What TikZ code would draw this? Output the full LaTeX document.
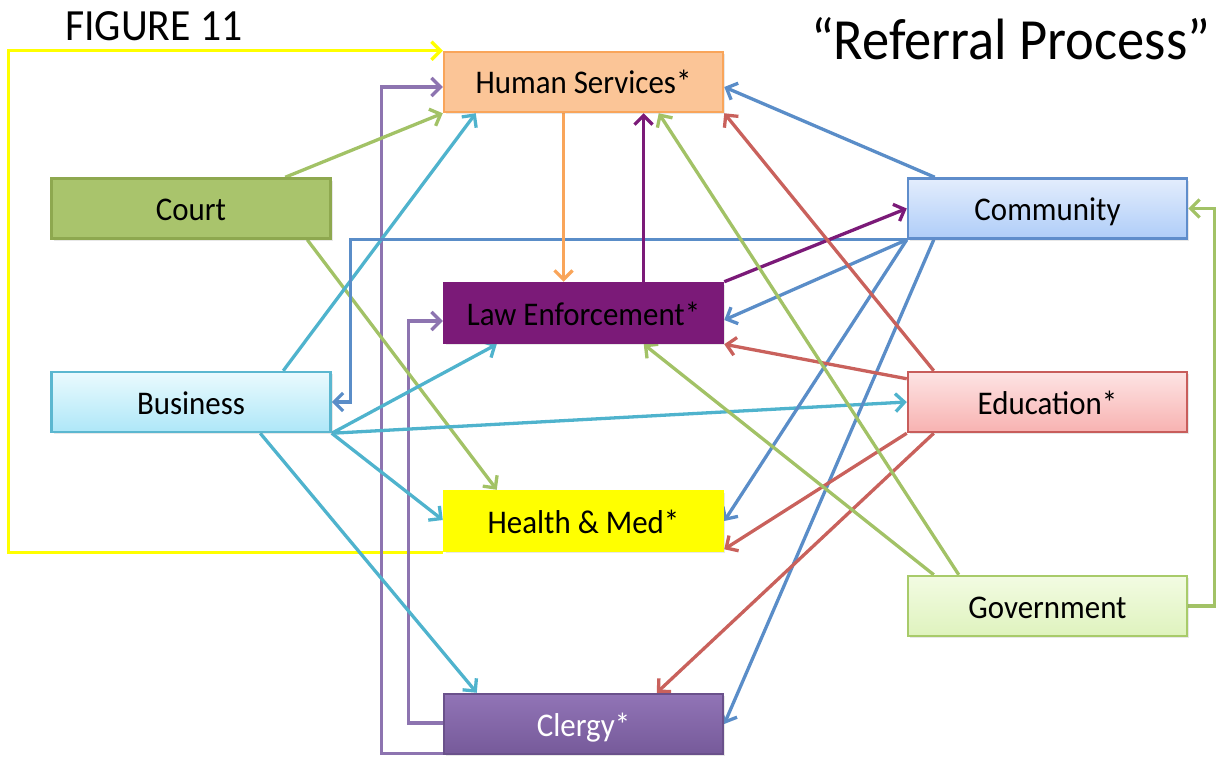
\documentclass[tikz,border=0pt]{standalone}
\usepackage{fontspec}
\setmainfont{Carlito}
\usetikzlibrary{arrows.meta,backgrounds,shadows}
\definecolor{hsfill}{HTML}{FBC597}
\definecolor{hsdraw}{HTML}{F9A55A}
\definecolor{courtfill}{HTML}{A9C46C}
\definecolor{courtdraw}{HTML}{8EA84F}
\definecolor{comtop}{HTML}{E3EDFD}
\definecolor{combot}{HTML}{AFCDF8}
\definecolor{comdraw}{HTML}{5F8DCB}
\definecolor{lefill}{HTML}{7B1A78}
\definecolor{bustop}{HTML}{EAFAFE}
\definecolor{busbot}{HTML}{AEE7F8}
\definecolor{busdraw}{HTML}{5BB7D0}
\definecolor{edutop}{HTML}{FDE4E4}
\definecolor{edubot}{HTML}{F8B2B1}
\definecolor{edudraw}{HTML}{C85D5B}
\definecolor{hmfill}{HTML}{FFFF00}
\definecolor{govtop}{HTML}{F2FBE2}
\definecolor{govbot}{HTML}{DFF3BE}
\definecolor{govdraw}{HTML}{A8CB6A}
\definecolor{cltop}{HTML}{9174B6}
\definecolor{clbot}{HTML}{765A9A}
\definecolor{cyanl}{HTML}{4FB3CD}
\definecolor{bluel}{HTML}{5A8DC8}
\definecolor{redl}{HTML}{C9615C}
\definecolor{greenl}{HTML}{A2C266}
\definecolor{purl}{HTML}{8D74B0}
\definecolor{dpurl}{HTML}{7B1A78}
\definecolor{orl}{HTML}{F9A55A}
\definecolor{yell}{HTML}{FFFF00}
\newcommand{\tx}[1]{\scalebox{1}[1.07]{#1}}
\tikzset{
  box/.style={draw, line width=2.5pt, minimum width=279pt, minimum height=60pt,
    inner sep=0pt, text height=26pt, text depth=2pt, font=\fontsize{30.9}{36}\selectfont,
    drop shadow={opacity=0.18, shadow xshift=2pt, shadow yshift=-2pt}},
  conn/.style={line width=3.3pt, -{Straight Barb[length=9pt,width=18pt,line width=3.3pt]}},
}
\begin{document}
\begin{tikzpicture}[x=1pt,y=-1pt]
\useasboundingbox (0,0) rectangle (1225,757);
% nodes
\node[box, fill=hsfill, draw=hsdraw] (hs) at (583.5,82) {\tx{Human Services*}};
\node[box, fill=courtfill, draw=courtdraw] (court) at (191,208.5) {\tx{Court}};
\node[box, top color=comtop, bottom color=combot, draw=comdraw] (comm) at (1047.5,208.5) {\tx{Community}};
\node[box, fill=lefill, draw=lefill] (le) at (583.5,313) {\tx{Law Enforcement*}};
\node[box, top color=bustop, bottom color=busbot, draw=busdraw] (bus) at (191,402) {\tx{Business}};
\node[box, top color=edutop, bottom color=edubot, draw=edudraw] (edu) at (1047.5,402) {\tx{Education*}};
\node[box, fill=hmfill, draw=hmfill] (hm) at (583.5,521) {\tx{Health \& Med*}};
\node[box, top color=govtop, bottom color=govbot, draw=govdraw] (gov) at (1047.5,606) {\tx{Government}};
\node[box, top color=cltop, bottom color=clbot, draw=clbot!90!black, text=white] (cl) at (583.5,724) {\tx{Clergy*}};
% titles
\node[anchor=base west, inner sep=0pt, font=\fontsize{41.7}{44}\selectfont] (fig) at (65,41) {\tx{FIGURE 11}};
\node[anchor=base west, inner sep=0pt, font=\fontsize{54.5}{58}\selectfont] (title) at (811,60) {\tx{“Referral Process”}};
% connectors
\begin{pgfonlayer}{background}
\draw[conn, yell] (hm.south west) -- ++(-434,0) |- (hs.north west);
\draw[conn, purl] ([yshift=2pt]cl.south west) -- ++(-61,0) |- ([yshift=-5pt]hs.west);
\draw[conn, purl] ([yshift=1pt]cl.west) -- ++(-34,0) |- ([yshift=-8pt]le.west);
\draw[conn, greenl] ([xshift=235pt]court.north west) -- (hs.south west);
\draw[conn, greenl] ([xshift=257pt]court.south west) -- ([xshift=54pt]hm.north west);
\draw[conn, cyanl] ([xshift=233pt]bus.north west) -- ([xshift=33pt]hs.south west);
\draw[conn, bluel] (comm.south west) -- ++(-556,0) |- (bus.east);
\draw[conn, cyanl] (bus.south east) -- ([xshift=54pt]le.south west);
\draw[conn, cyanl] (bus.south east) -- (edu.west);
\draw[conn, cyanl] (bus.south east) -- ([yshift=1pt]hm.west);
\draw[conn, cyanl] ([xshift=210pt]bus.south west) -- ([xshift=34pt]cl.north west);
\draw[conn, orl] ([xshift=-20pt]hs.south) -- ([xshift=-20pt]le.north);
\draw[conn, dpurl] ([xshift=60pt]le.north) -- ([xshift=60pt]hs.south);
\draw[conn, dpurl] (le.north east) -- (comm.west);
\draw[conn, bluel] ([xshift=28pt]comm.north west) -- ([yshift=-5pt]hs.east);
\draw[conn, bluel] (comm.south west) -- ([yshift=-7pt]le.east);
\draw[conn, bluel] (comm.south west) -- (hm.east);
\draw[conn, bluel] ([xshift=27pt]comm.south west) -- (cl.east);
\draw[conn, redl] ([xshift=27pt]edu.north west) -- (hs.south east);
\draw[conn, redl] ([yshift=-8pt]edu.north west) -- (le.south east);
\draw[conn, redl] (edu.south west) -- ([yshift=3pt]hm.south east);
\draw[conn, redl] ([xshift=27pt]edu.south west) -- ([xshift=214pt]cl.north west);
\draw[conn, greenl] ([xshift=52pt]gov.north west) -- ([xshift=216pt]hs.south west);
\draw[conn, greenl] ([xshift=27pt]gov.north west) -- ([xshift=201pt]le.south west);
\draw[conn, greenl] (gov.east) -- ++(26,0) |- (comm.east);
\end{pgfonlayer}
\end{tikzpicture}
\end{document}
